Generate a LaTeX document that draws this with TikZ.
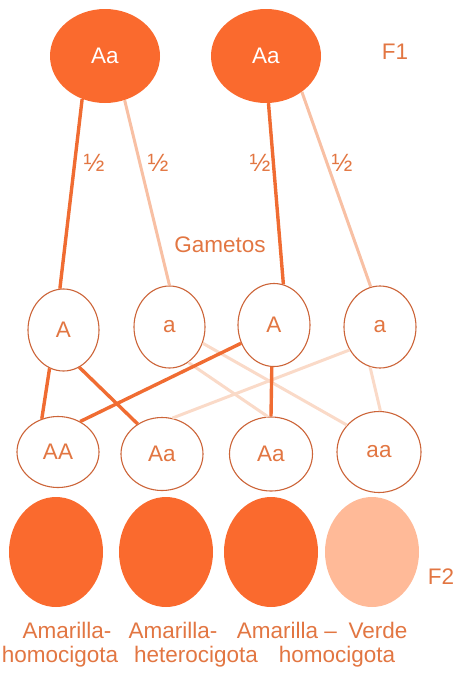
\documentclass[tikz,border=0pt]{standalone}
\usepackage{fontspec}
\setmainfont{Liberation Sans}
\usepackage{xcolor}
\usetikzlibrary{shapes.geometric}
\definecolor{orfill}{RGB}{250,106,46}
\definecolor{ltfill}{RGB}{255,186,152}
\definecolor{ortext}{RGB}{226,118,66}
\definecolor{orline}{RGB}{204,100,56}
\definecolor{dkedge}{RGB}{240,108,50}
\definecolor{ltedge}{RGB}{248,192,164}
\definecolor{pledge}{RGB}{250,218,200}

\begin{document}
\begin{tikzpicture}[x=1pt,y=-1pt,
  font=\fontsize{22.5}{26}\selectfont,
  par/.style={ellipse,fill=orfill,inner sep=0pt,minimum width=110pt,minimum height=94pt,text=white},
  gam/.style={ellipse,draw=orline,line width=1.1pt,fill=white,inner sep=0pt,minimum width=71pt,minimum height=82pt,text=ortext},
  gen/.style={ellipse,draw=orline,line width=1.1pt,fill=white,inner sep=0pt,minimum width=82pt,minimum height=72pt,text=ortext},
  phe/.style={ellipse,fill=orfill,inner sep=0pt,minimum width=94pt,minimum height=110pt},
  lbl/.style={text=ortext,inner sep=0pt},
  frac/.style={text=ortext,inner sep=0pt,font=\fontsize{25}{28}\selectfont},
  dk/.style={draw=dkedge,line width=3.4pt},
  lt/.style={draw=ltedge,line width=3pt},
  pl/.style={draw=pledge,line width=3pt}]
  \useasboundingbox (0,0) rectangle (459,683);
  % generacion F1
  \node[par] (p1) at (105,56) {Aa};
  \node[par] (p2) at (266,56) {Aa};
  \node[lbl] (f1) at (395,52) {F1};
  % gametos
  \node[gam] (ga1) at (63.5,330) {A};
  \node[gam] (ga2) at (169.5,327) {a};
  \node[gam,minimum width=72pt,minimum height=83pt] (ga3) at (274,325) {A};
  \node[gam,minimum width=72pt] (ga4) at (380,327) {a};
  \node[lbl] (gt) at (220,245) {Gametos};
  % genotipos F2
  \node[gen,minimum height=71pt] (g1) at (58,452) {AA};
  \node[gen,minimum height=73pt] (g2) at (162,454) {Aa};
  \node[gen,minimum width=83pt,minimum height=74pt] (g3) at (271,454) {Aa};
  \node[gen,minimum width=84pt,minimum height=81pt] (g4) at (379,452) {aa};
  % fenotipos F2
  \node[phe] (h1) at (56,552) {};
  \node[phe] (h2) at (166,552) {};
  \node[phe] (h3) at (271,552) {};
  \node[phe,fill=ltfill] (h4) at (372,552) {};
  \node[lbl] (f2) at (441,577) {F2};
  \node[lbl] (t1) at (67,630) {Amarilla-};
  \node[lbl] (t2) at (60,657) {homocigota};
  \node[lbl] (t3) at (173,630) {Amarilla-};
  \node[lbl] (t4) at (196,657) {heterocigota};
  \node[lbl] (t5) at (287,630) {Amarilla –};
  \node[lbl] (t6) at (378,630) {Verde};
  \node[lbl] (t7) at (337,657) {homocigota};
  % lineas
  \path[lt] (p1.294) -- (ga2.90);
  \path[lt] (p2.315) -- (ga4.103);
  \path[dk] (p1.242) -- (ga1.95);
  \path[dk] (p2.273) -- (ga3.77);
  \path[pl] (ga2.298) -- (g3.95);
  \path[pl] (ga2.334) -- (g4.140);
  \path[pl] (ga4.217) -- (g2.74);
  \path[pl] (ga4.256) -- (g4.88);
  \path[dk] (ga1.250) -- (g1.116);
  \path[dk] (ga1.293) -- (g2.129);
  \path[dk] (ga3.209) -- (g1.54);
  \path[dk] (ga3.267) -- (g3.90);
  \node[frac] (h12a) at (94,163) {½};
  \node[frac] (h12b) at (158,163) {½};
  \node[frac] (h12c) at (260,163) {½};
  \node[frac] (h12d) at (342,163) {½};
\end{tikzpicture}
\end{document}
